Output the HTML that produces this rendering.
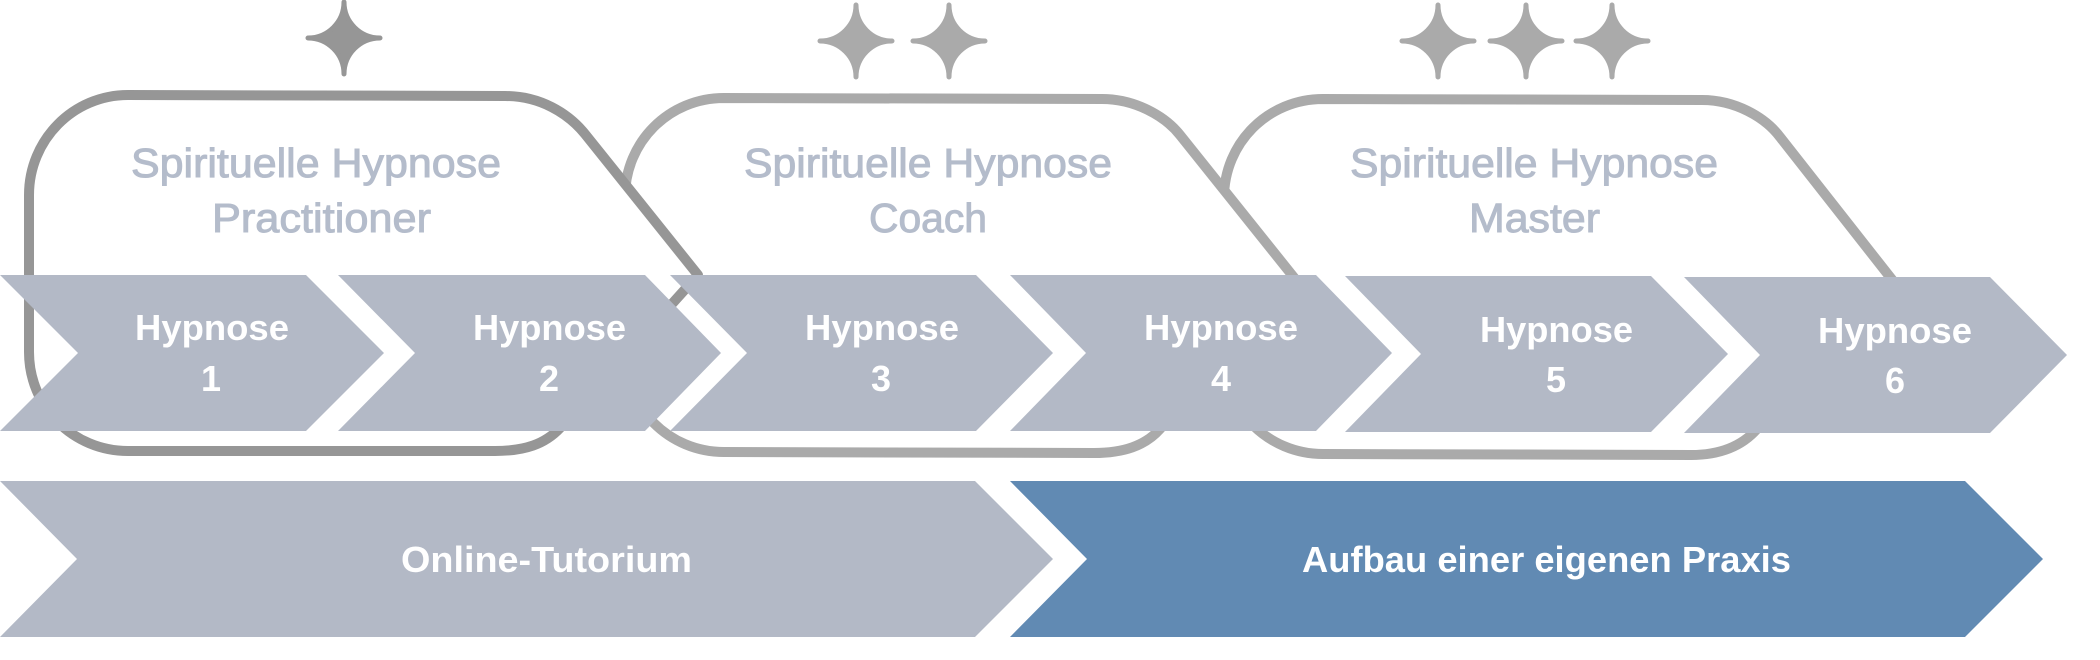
<!DOCTYPE html>
<html lang="de">
<head>
<meta charset="utf-8">
<title>Spirituelle Hypnose</title>
<style>
html,body{margin:0;padding:0;background:#fff;width:2100px;height:660px;overflow:hidden}
svg{display:block}
.t{font-family:"Liberation Sans",sans-serif;font-size:41px;fill:#b4bccb;stroke:#b4bccb;stroke-width:1}
.h{font-family:"Liberation Sans",sans-serif;font-size:36px;font-weight:bold;fill:#fff}
</style>
</head>
<body>
<svg xmlns="http://www.w3.org/2000/svg" width="2100" height="660" viewBox="0 0 2100 660">
<rect width="2100" height="660" fill="#fff"/>

<!-- frames -->
<path d="M1323,99 L1702,100 C1735,100 1765,117 1780,137 L1890,277 L1757,429 C1742,446 1720,455 1691,455 L1323,454 C1268,454 1224,410 1224,355 L1224,198 C1224,143 1268,99 1323,99 Z" fill="#fff" stroke="#aaaaaa" stroke-width="10"/>
<path d="M724,98 L1102,99 C1135,99 1165,116 1180,135 L1292,275 L1160,429 C1145,446 1123,453 1094,453 L724,452 C669,452 625,408 625,353 L625,197 C625,142 669,98 724,98 Z" fill="#fff" stroke="#aaaaaa" stroke-width="10"/>
<path d="M128,95 L505,96 C540,96 568,113 585,134 L698,275 L560,428 C545,444 525,451 495,451 L128,451 C73,451 29,407 29,352 L29,195 C29,140 73,95 128,95 Z" fill="#fff" stroke="#969696" stroke-width="10" stroke-linejoin="round"/>

<!-- stars -->
<path transform="translate(344,38)" d="M0,-36 A36,36 0 0 0 36,0 A36,36 0 0 0 0,36 A36,36 0 0 0 -36,0 A36,36 0 0 0 0,-36 Z" fill="#969696" stroke="#969696" stroke-width="5" stroke-linejoin="round"/>
<path transform="translate(856,41)" d="M0,-36 A36,36 0 0 0 36,0 A36,36 0 0 0 0,36 A36,36 0 0 0 -36,0 A36,36 0 0 0 0,-36 Z" fill="#aaaaaa" stroke="#aaaaaa" stroke-width="5" stroke-linejoin="round"/>
<path transform="translate(949,41)" d="M0,-36 A36,36 0 0 0 36,0 A36,36 0 0 0 0,36 A36,36 0 0 0 -36,0 A36,36 0 0 0 0,-36 Z" fill="#aaaaaa" stroke="#aaaaaa" stroke-width="5" stroke-linejoin="round"/>
<path transform="translate(1438,41)" d="M0,-36 A36,36 0 0 0 36,0 A36,36 0 0 0 0,36 A36,36 0 0 0 -36,0 A36,36 0 0 0 0,-36 Z" fill="#aaaaaa" stroke="#aaaaaa" stroke-width="5" stroke-linejoin="round"/>
<path transform="translate(1526,41)" d="M0,-36 A36,36 0 0 0 36,0 A36,36 0 0 0 0,36 A36,36 0 0 0 -36,0 A36,36 0 0 0 0,-36 Z" fill="#aaaaaa" stroke="#aaaaaa" stroke-width="5" stroke-linejoin="round"/>
<path transform="translate(1612,41)" d="M0,-36 A36,36 0 0 0 36,0 A36,36 0 0 0 0,36 A36,36 0 0 0 -36,0 A36,36 0 0 0 0,-36 Z" fill="#aaaaaa" stroke="#aaaaaa" stroke-width="5" stroke-linejoin="round"/>

<!-- titles -->
<text class="t" x="131" y="177" textLength="370" lengthAdjust="spacingAndGlyphs">Spirituelle Hypnose</text>
<text class="t" x="212" y="232" textLength="219" lengthAdjust="spacingAndGlyphs">Practitioner</text>
<text class="t" x="744" y="177" textLength="368" lengthAdjust="spacingAndGlyphs">Spirituelle Hypnose</text>
<text class="t" x="869" y="232" textLength="118" lengthAdjust="spacingAndGlyphs">Coach</text>
<text class="t" x="1350" y="177" textLength="368" lengthAdjust="spacingAndGlyphs">Spirituelle Hypnose</text>
<text class="t" x="1469" y="232" textLength="131" lengthAdjust="spacingAndGlyphs">Master</text>

<!-- chevrons -->
<g fill="#b3b9c6">
<polygon points="0,275 306,275 384,353 306,431 0,431 78,353"/>
<polygon points="338,275 645,275 721,353 645,431 338,431 415,353"/>
<polygon points="670,275 976,275 1053,353 976,431 670,431 747,353"/>
<polygon points="1010,275 1316,275 1392,353 1316,431 1010,431 1086,353"/>
<polygon points="1345,276 1651,276 1728,354 1651,432 1345,432 1421,354"/>
<polygon points="1684,277 1990,277 2067,355 1990,433 1684,433 1760,355"/>
<polygon points="0,481 975,481 1053,559 975,637 0,637 77,559"/>
</g>
<polygon points="1010,481 1965,481 2043,559 1965,637 1010,637 1087,559" fill="#618ab3"/>

<!-- labels -->
<text class="h" x="135" y="340" textLength="154" lengthAdjust="spacingAndGlyphs">Hypnose</text>
<text class="h" x="211" y="391" text-anchor="middle">1</text>
<text class="h" x="473" y="340" textLength="153" lengthAdjust="spacingAndGlyphs">Hypnose</text>
<text class="h" x="549" y="391" text-anchor="middle">2</text>
<text class="h" x="805" y="340" textLength="154" lengthAdjust="spacingAndGlyphs">Hypnose</text>
<text class="h" x="881" y="391" text-anchor="middle">3</text>
<text class="h" x="1144" y="340" textLength="154" lengthAdjust="spacingAndGlyphs">Hypnose</text>
<text class="h" x="1221" y="391" text-anchor="middle">4</text>
<text class="h" x="1480" y="342" textLength="153" lengthAdjust="spacingAndGlyphs">Hypnose</text>
<text class="h" x="1556" y="392" text-anchor="middle">5</text>
<text class="h" x="1818" y="343" textLength="154" lengthAdjust="spacingAndGlyphs">Hypnose</text>
<text class="h" x="1895" y="393" text-anchor="middle">6</text>
<text class="h" x="401" y="572" textLength="291" lengthAdjust="spacingAndGlyphs">Online-Tutorium</text>
<text class="h" x="1302" y="572" textLength="489" lengthAdjust="spacingAndGlyphs">Aufbau einer eigenen Praxis</text>
</svg>
</body>
</html>
